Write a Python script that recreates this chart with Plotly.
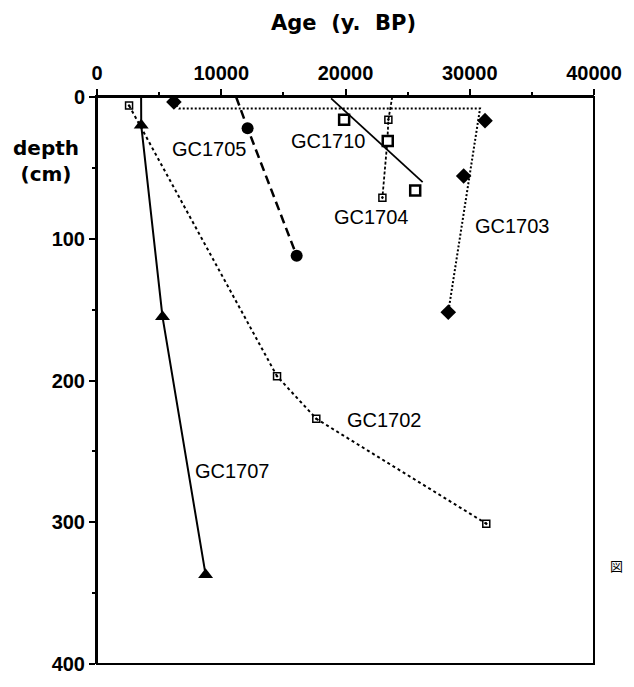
import plotly.graph_objects as go

# Radiocarbon age (y. BP) versus core depth (cm) for each gravity core.
# *_line arrays trace the drawn curve (including its surface end),
# the plain arrays hold the dated samples shown as symbols.
gc1707_line_age = [3550, 3560, 5270, 8740]
gc1707_line_depth = [0, 20, 155, 337]
gc1707_age = [3560, 5270, 8740]
gc1707_depth = [20, 155, 337]

gc1702_age = [2580, 14490, 17650, 31330]
gc1702_depth = [6, 197, 227, 301]

gc1705_line_age = [11200, 12120, 16070]
gc1705_line_depth = [0, 22, 112]
gc1705_age = [12120, 16070]
gc1705_depth = [22, 112]

gc1703_line_age = [6190, 6600, 30830, 28270]
gc1703_line_depth = [3.5, 8.1, 8.1, 151.9]
gc1703_age = [6190, 31230, 29510, 28270]
gc1703_depth = [3.5, 16.7, 55.7, 151.9]

gc1704_line_age = [23760, 23450, 23370, 22970]
gc1704_line_depth = [0, 16, 31, 71]
gc1704_age = [23450, 23370, 22970]
gc1704_depth = [16, 31, 71]

gc1710_line_age = [18840, 26210]
gc1710_line_depth = [1, 60]
gc1710_age = [19890, 23400, 25610]
gc1710_depth = [16, 31, 66]

core_names = ["GC1705", "GC1710", "GC1704", "GC1703", "GC1702", "GC1707"]
label_age = [9036, 18600, 22080, 33460, 23110, 10930]
label_depth = [37, 31, 85, 91, 228, 264]

x_ticks = [0, 10000, 20000, 30000, 40000]
y_ticks = [0, 100, 200, 300, 400]

BLACK = "black"
fig = go.Figure()


def add_line(ages, depths, width, dash="solid"):
    fig.add_trace(go.Scatter(x=ages, y=depths, mode="lines",
                             line=dict(color=BLACK, width=width, dash=dash)))


def add_points(ages, depths, symbol, size, fill=BLACK, edge=0):
    fig.add_trace(go.Scatter(x=ages, y=depths, mode="markers",
                             marker=dict(symbol=symbol, size=size, color=fill,
                                         opacity=1, line=dict(width=edge, color=BLACK))))


add_line(gc1707_line_age, gc1707_line_depth, 2)
add_points(gc1707_age, gc1707_depth, "triangle-up", 13)

add_line(gc1702_age, gc1702_depth, 2, "dot")
add_points(gc1702_age, gc1702_depth, "square-open-dot", 7, edge=1.5)

add_line(gc1705_line_age, gc1705_line_depth, 2.5, "9px,5px")
add_points(gc1705_age, gc1705_depth, "circle", 12)

add_line(gc1703_line_age, gc1703_line_depth, 2, "2px,2px")
add_points(gc1703_age, gc1703_depth, "diamond", 12)

add_line(gc1704_line_age, gc1704_line_depth, 1.8, "3px,2px")
add_points(gc1704_age, gc1704_depth, "square-open-dot", 7, edge=1.5)

add_line(gc1710_line_age, gc1710_line_depth, 1.8)
add_points(gc1710_age, gc1710_depth, "square", 10, fill="white", edge=2.5)

label_font = dict(family="Liberation Sans", size=20, color=BLACK)
for name, ax, ay in zip(core_names, label_age, label_depth):
    fig.add_annotation(x=ax, y=ay, xref="x", yref="y", text=name, showarrow=False,
                       font=label_font, xanchor="center", yanchor="middle")

title_font = dict(family="DejaVu Sans", size=21, color=BLACK, weight="bold")
fig.add_annotation(x=0.496, y=1.13, xref="paper", yref="paper", text="Age  (y.  BP)",
                   showarrow=False, font=title_font, xanchor="center", yanchor="middle")
fig.add_annotation(x=-0.103, y=0.887, xref="paper", yref="paper", text="depth<br>(cm)",
                   showarrow=False, font=dict(family="DejaVu Sans", size=20, color=BLACK, weight="bold"),
                   xanchor="center", yanchor="middle")
fig.add_annotation(x=1.0613, y=0.174, xref="paper", yref="paper", text="図",
                   showarrow=False, font=dict(family="Noto Sans CJK JP", size=13, color=BLACK),
                   xanchor="right", yanchor="middle", borderpad=0)

# frame around the plotting area
fig.add_shape(type="rect", xref="paper", yref="paper", x0=0, x1=1, y0=0, y1=1,
              line=dict(color=BLACK, width=2), layer="above")

tick_font = dict(family="Liberation Sans", size=20, color=BLACK, weight="bold")
fig.update_xaxes(
    side="top", range=[0, 40000], tickvals=x_ticks, ticktext=[str(v) for v in x_ticks],
    showline=True, linecolor=BLACK, linewidth=2,
    ticks="outside", ticklen=6, tickwidth=2, tickcolor=BLACK, tickfont=tick_font,
    ticklabelstandoff=1,
    minor=dict(dtick=5000, tick0=0, ticks="outside", ticklen=3, tickwidth=1.5, tickcolor=BLACK),
    showgrid=False, zeroline=False,
)
fig.update_yaxes(
    range=[400, 0], tickvals=y_ticks, ticktext=[str(v) for v in y_ticks],
    showline=True, linecolor=BLACK, linewidth=2,
    ticks="outside", ticklen=6, tickwidth=2, tickcolor=BLACK, tickfont=tick_font,
    ticklabelstandoff=0,
    minor=dict(dtick=50, tick0=0, ticks="outside", ticklen=3, tickwidth=1.5, tickcolor=BLACK),
    showgrid=False, zeroline=False,
)

fig.update_layout(
    width=634, height=687,
    margin=dict(l=97, r=31, t=97, b=15),
    paper_bgcolor="white", plot_bgcolor="white",
    showlegend=False,
)

fig.write_html("out.html")
